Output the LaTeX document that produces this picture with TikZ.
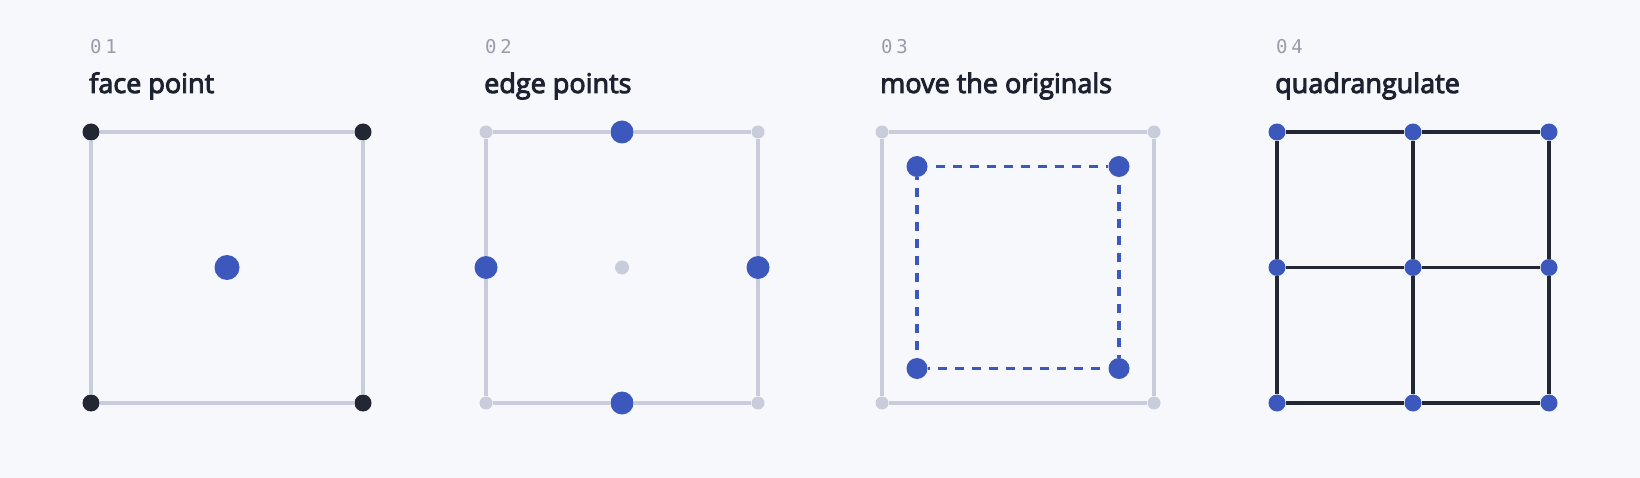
\documentclass[tikz,border=0pt]{standalone}
\usepackage{fontspec}
\setmainfont{Open Sans}
\newfontfamily\titlefont{Open Sans}[FakeBold=3.5]
\newfontfamily\numfont{DejaVu Sans Mono}[LetterSpace=20]
\definecolor{bg}{HTML}{F6F8FC}
\definecolor{cgray}{HTML}{C9CCDB}
\definecolor{cblue}{HTML}{3D58BD}
\definecolor{cdark}{HTML}{232733}
\definecolor{cnum}{HTML}{9A9CAA}
\definecolor{ctitle}{HTML}{1E2230}
\tikzset{
  dot/.style={circle, inner sep=0pt, draw=none},
  darkdot/.style={dot, fill=cdark, minimum size=17pt},
  bigblue/.style={dot, fill=cblue, minimum size=25pt},
  edgeblue/.style={dot, fill=cblue, minimum size=23pt},
  moveblue/.style={dot, fill=cblue, minimum size=21pt},
  gridblue/.style={dot, fill=cblue, minimum size=17pt},
  graydot/.style={dot, fill=cgray, minimum size=13pt},
  graycenter/.style={dot, fill=cgray, minimum size=14pt},
  grayline/.style={draw=cgray, line width=3.5pt},
  darkline/.style={draw=cdark, line width=3.5pt},
  dashline/.style={draw=cblue, line width=3.5pt, dash pattern=on 9pt off 8pt, dash phase=9pt},
  numlabel/.style={anchor=base west, inner sep=0pt, text=cnum, font=\numfont\fontsize{19}{22}\selectfont},
  titlelabel/.style={anchor=base west, inner sep=0pt, text=ctitle, font=\titlefont\fontsize{27}{31}\selectfont},
}
\begin{document}
\begin{tikzpicture}[x=1pt,y=-1pt]
\fill[bg] (0,0) rectangle (1640,478);
\useasboundingbox (0,0) rectangle (1640,478);

% labels
\node[numlabel] (n1) at (90,54) {01};
\node[titlelabel] (t1) at (89,93) {face point};
\node[numlabel] (n2) at (485,54) {02};
\node[titlelabel] (t2) at (484,93) {edge points};
\node[numlabel] (n3) at (881,54) {03};
\node[titlelabel] (t3) at (880,93) {move the originals};
\node[numlabel] (n4) at (1276,54) {04};
\node[titlelabel] (t4) at (1275,93) {quadrangulate};

% panel 1
\node[darkdot] (a1) at (91,132) {};
\node[darkdot] (a2) at (363,132) {};
\node[darkdot] (a3) at (363,403) {};
\node[darkdot] (a4) at (91,403) {};
\draw[grayline] (a1) -- (a2);
\draw[grayline] (a2) -- (a3);
\draw[grayline] (a3) -- (a4);
\draw[grayline] (a4) -- (a1);
\node[bigblue] (a5) at (227,267.5) {};

% panel 2
\node[graydot] (b1) at (486,132) {};
\node[graydot] (b2) at (758,132) {};
\node[graydot] (b3) at (758,403) {};
\node[graydot] (b4) at (486,403) {};
\node[edgeblue] (bt) at (622,132) {};
\node[edgeblue] (br) at (758,267.5) {};
\node[edgeblue] (bb) at (622,403) {};
\node[edgeblue] (bl) at (486,267.5) {};
\node[graycenter] (bc) at (622,267.5) {};
\draw[grayline] (b1) -- (bt);
\draw[grayline] (bt) -- (b2);
\draw[grayline] (b2) -- (br);
\draw[grayline] (br) -- (b3);
\draw[grayline] (b3) -- (bb);
\draw[grayline] (bb) -- (b4);
\draw[grayline] (b4) -- (bl);
\draw[grayline] (bl) -- (b1);

% panel 3
\node[graydot] (c1) at (882,132) {};
\node[graydot] (c2) at (1154,132) {};
\node[graydot] (c3) at (1154,403) {};
\node[graydot] (c4) at (882,403) {};
\draw[grayline] (c1) -- (c2);
\draw[grayline] (c2) -- (c3);
\draw[grayline] (c3) -- (c4);
\draw[grayline] (c4) -- (c1);
\node[moveblue] (d1) at (917,166.5) {};
\node[moveblue] (d2) at (1119,166.5) {};
\node[moveblue] (d3) at (1119,368.5) {};
\node[moveblue] (d4) at (917,368.5) {};
\draw[dashline] (d1) -- (d2);
\draw[dashline] (d2) -- (d3);
\draw[dashline] (d3) -- (d4);
\draw[dashline] (d4) -- (d1);

% panel 4
\node[gridblue] (g11) at (1277,132) {};
\node[gridblue] (g12) at (1413,132) {};
\node[gridblue] (g13) at (1549,132) {};
\node[gridblue] (g21) at (1277,267.5) {};
\node[gridblue] (g22) at (1413,267.5) {};
\node[gridblue] (g23) at (1549,267.5) {};
\node[gridblue] (g31) at (1277,403) {};
\node[gridblue] (g32) at (1413,403) {};
\node[gridblue] (g33) at (1549,403) {};
\draw[darkline] (g11) -- (g12);
\draw[darkline] (g12) -- (g13);
\draw[darkline] (g21) -- (g22);
\draw[darkline] (g22) -- (g23);
\draw[darkline] (g31) -- (g32);
\draw[darkline] (g32) -- (g33);
\draw[darkline] (g11) -- (g21);
\draw[darkline] (g21) -- (g31);
\draw[darkline] (g12) -- (g22);
\draw[darkline] (g22) -- (g32);
\draw[darkline] (g13) -- (g23);
\draw[darkline] (g23) -- (g33);
\end{tikzpicture}
\end{document}
